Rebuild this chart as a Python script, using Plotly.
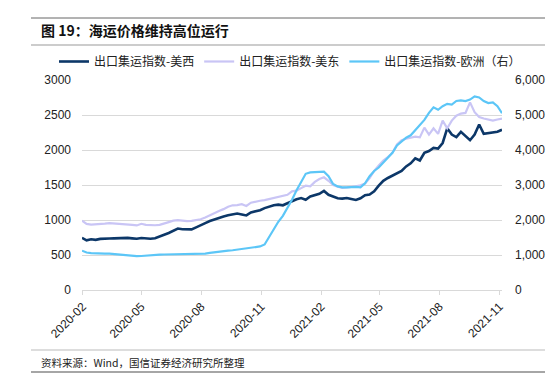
import plotly.graph_objects as go
import pandas as pd

# ---- data (weekly) ----
start_date = "2020-01-31"
n_weeks = 93
dates = pd.date_range(start_date, periods=n_weeks, freq="7D")

us_west = [745, 710, 725, 716, 730, 728, 735, 738, 742, 745,
           745, 738, 732, 742, 735, 732, 740, 760, 790, 815,
           850, 878, 868, 862, 866, 895, 920, 955, 985, 1010,
           1030, 1050, 1067, 1075, 1092, 1080, 1065, 1108, 1125, 1140,
           1170, 1195, 1212, 1220, 1210, 1240, 1270, 1295, 1314, 1290,
           1335, 1350, 1375, 1415, 1360, 1335, 1310, 1305, 1315, 1300,
           1286, 1310, 1355, 1365, 1410, 1490, 1560, 1600, 1630, 1660,
           1700, 1765, 1810, 1880, 1850, 1960, 1985, 2030, 2020, 2100,
           2310, 2220, 2185, 2260, 2200, 2140, 2220, 2365, 2230, 2240,
           2245, 2260, 2290]

us_east = [990, 945, 935, 936, 940, 948, 955, 950, 946, 948,
           940, 930, 922, 946, 930, 925, 925, 930, 946, 970,
           990, 998, 992, 984, 988, 994, 1010, 1035, 1070, 1105,
           1130, 1155, 1190, 1210, 1212, 1225, 1200, 1247, 1265, 1275,
           1285, 1300, 1315, 1322, 1345, 1360, 1410, 1420, 1455, 1490,
           1480, 1545, 1585, 1610, 1560, 1500, 1475, 1460, 1465, 1470,
           1480, 1495, 1520, 1600, 1700, 1780, 1850, 1900, 1960, 2080,
           2140, 2160, 2175, 2190, 2180, 2320, 2220, 2310, 2230, 2420,
           2310, 2420, 2490, 2520, 2530, 2680, 2540, 2470, 2450, 2430,
           2420, 2435, 2450]

europe = [1124, 1070, 1055, 1045, 1038, 1038, 1040, 1030, 1015, 1005,
          985, 970, 968, 972, 985, 1000, 1005, 1010, 1015, 1019,
          1022, 1020, 1018, 1020, 1025, 1028, 1030, 1040, 1060, 1080,
          1090, 1110, 1125, 1135, 1150, 1165, 1180, 1200, 1220, 1245,
          1300, 1520, 1760, 1950, 2120, 2340, 2580, 2850, 3100, 3320,
          3360, 3370, 3385, 3380, 3250, 3030, 2960, 2935, 2935, 2950,
          2945, 2935, 3050, 3250, 3400, 3500, 3630, 3760, 3920, 4130,
          4240, 4350, 4420, 4560, 4720, 4860, 5060, 5220, 5150, 5250,
          5320, 5300, 5400, 5420, 5400, 5440, 5530, 5500, 5400, 5340,
          5360, 5250, 5050]

names = ["出口集运指数-美西", "出口集运指数-美东", "出口集运指数-欧洲（右）"]
x_ticks = ["2020-02-01", "2020-05-01", "2020-08-01", "2020-11-01",
           "2021-02-01", "2021-05-01", "2021-08-01", "2021-11-01"]
left_ticks = [0, 500, 1000, 1500, 2000, 2500, 3000]
right_ticks = [0, 1000, 2000, 3000, 4000, 5000, 6000]

title_text = "图 19：海运价格维持高位运行"
source_text = "资料来源：Wind，国信证券经济研究所整理"

# ---- layout geometry ----
W, H = 560, 391
L, R, T, B = 74, 66, 72, 109
PW, PH = W - L - R, H - T - B


def px(x):
    return (x - L) / PW


def py(y):
    return 1 - (y - T) / PH


CJK = "Noto Sans CJK SC"
LAT = "Liberation Sans, Arial"

fig = go.Figure()
fig.add_trace(go.Scatter(x=dates, y=us_west, name=names[0], mode="lines",
                         line=dict(color="#0c3768", width=2.6)))
fig.add_trace(go.Scatter(x=dates, y=us_east, name=names[1], mode="lines",
                         line=dict(color="#c9c5f5", width=2.2)))
fig.add_trace(go.Scatter(x=dates, y=europe, name=names[2], mode="lines",
                         yaxis="y2", line=dict(color="#5cc6f7", width=2.2)))

fig.update_layout(
    width=W, height=H,
    margin=dict(l=L, r=R, t=T, b=B, pad=0),
    paper_bgcolor="white", plot_bgcolor="white",
    font=dict(family=LAT, size=12, color="#222"),
    showlegend=True,
    legend=dict(orientation="h", x=px(46), y=py(39), xanchor="left", yanchor="top",
                font=dict(family=CJK, size=12, color="#222"),
                itemwidth=30, tracegroupgap=0, bgcolor="rgba(0,0,0,0)"),
    xaxis=dict(type="date", range=["2020-01-31", "2021-11-05"],
               tickvals=x_ticks, tickformat="%Y-%m", tickangle=-45,
               showgrid=False, showline=True, linecolor="#d9d9d9", linewidth=1,
               ticks="outside", ticklen=4, tickcolor="#d9d9d9",
               tickfont=dict(family=LAT, size=12, color="#222"), zeroline=False),
    yaxis=dict(range=[0, 3000], tickvals=left_ticks, showgrid=True,
               gridcolor="#d9d9d9", gridwidth=1, zeroline=False, showline=False,
               ticks="", ticklabelstandoff=10,
               tickfont=dict(family=LAT, size=12, color="#222")),
    yaxis2=dict(range=[0, 6000], tickvals=right_ticks, tickformat=",",
                overlaying="y", side="right", showgrid=False, zeroline=False,
                showline=False, ticks="", ticklabelstandoff=12,
                tickfont=dict(family=LAT, size=12, color="#222")),
)

# title and footer
fig.add_annotation(text="<b>" + title_text + "</b>", xref="paper", yref="paper",
                   x=px(31), y=py(22), xanchor="left", yanchor="middle",
                   showarrow=False, font=dict(family=CJK, size=14, color="#111"))
fig.add_annotation(text=source_text, xref="paper", yref="paper",
                   x=px(31), y=py(354), xanchor="left", yanchor="middle",
                   showarrow=False, font=dict(family=CJK, size=10.5, color="#222"))

for yy, col, wd in [(10, "#666666", 1), (37, "#999999", 1.2), (342, "#bbbbbb", 1), (364, "#888888", 1.5)]:
    fig.add_shape(type="line", xref="paper", yref="paper",
                  x0=px(23), x1=px(537), y0=py(yy), y1=py(yy),
                  line=dict(color=col, width=wd))

fig.write_html("out.html")
